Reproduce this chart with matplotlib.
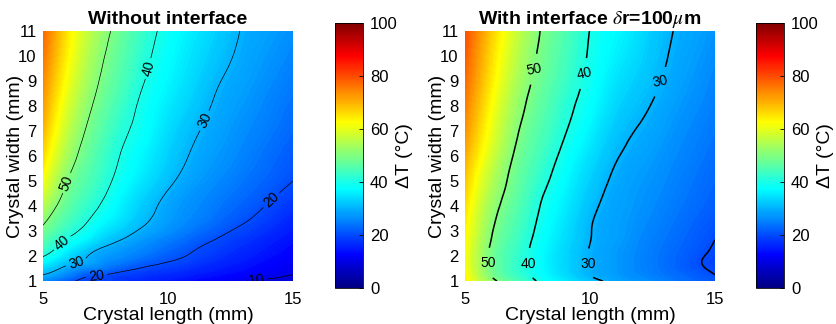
import numpy as np
import matplotlib
matplotlib.use("Agg")
import matplotlib.pyplot as plt
import matplotlib.tri as mtri
from matplotlib.cm import ScalarMappable
from matplotlib.colors import Normalize, LinearSegmentedColormap

plt.rcParams["font.family"] = ["Liberation Sans", "DejaVu Sans"]
plt.rcParams["mathtext.fontset"] = "stix"

# grid: crystal length (x) and crystal width (y), mm
crystal_length = [5, 6, 7, 8, 9, 10, 11, 12, 13, 14, 15]
crystal_width = [1, 1.25, 1.5, 2, 2.5, 3, 4, 5, 6, 7, 8, 9, 10, 11]

# delta T (degC), one row per crystal width
dT_no_interface = [
    [26.0, 21.3, 18.9, 17.7, 16.2, 14.7, 13.2, 11.7, 10.2, 9.05, 8.0],
    [30.0, 25.3, 20.7, 18.9, 17.6, 16.4, 15.1, 13.8, 12.6, 11.3, 10.0],
    [33.5, 28.3, 25.2, 22.1, 19.6, 18.1, 16.7, 15.2, 13.8, 12.3, 10.9],
    [40.3, 34.1, 29.1, 26.6, 24.1, 21.5, 19.3, 17.5, 15.7, 13.9, 12.1],
    [45.0, 38.3, 33.5, 29.3, 26.6, 24.0, 21.3, 19.1, 17.2, 15.3, 13.4],
    [48.5, 42.0, 37.1, 32.9, 29.2, 26.6, 23.9, 21.3, 19.0, 16.9, 14.8],
    [55.0, 46.5, 41.2, 36.6, 32.3, 28.6, 26.4, 24.2, 22.0, 19.7, 17.4],
    [61.5, 49.8, 44.0, 38.8, 34.9, 31.0, 28.0, 26.0, 24.0, 22.0, 20.0],
    [66.0, 53.2, 45.8, 40.3, 36.6, 32.8, 29.5, 27.4, 25.4, 23.3, 21.3],
    [69.5, 56.0, 47.8, 41.9, 38.0, 34.1, 30.7, 28.4, 26.4, 24.5, 22.5],
    [72.0, 58.5, 49.8, 43.8, 38.9, 35.5, 32.2, 29.3, 27.4, 25.4, 23.5],
    [74.0, 61.0, 51.6, 45.6, 40.3, 36.7, 33.6, 30.3, 28.3, 26.4, 24.5],
    [76.0, 63.0, 53.2, 46.9, 41.5, 37.6, 34.6, 31.6, 29.1, 27.3, 25.5],
    [77.5, 64.5, 54.7, 48.3, 42.6, 38.5, 35.6, 32.6, 29.7, 28.1, 26.5],
]
dT_interface = [
    [64.0, 52.3, 45.2, 39.2, 35.4, 31.5, 28.8, 26.9, 24.9, 22.9, 20.8],
    [63.0, 50.0, 43.2, 37.9, 34.0, 29.9, 27.8, 25.9, 23.9, 22.0, 20.0],
    [62.0, 49.5, 42.7, 37.6, 33.5, 29.7, 27.6, 25.5, 23.4, 21.2, 19.3],
    [62.0, 49.3, 42.8, 37.6, 33.5, 29.7, 27.6, 25.5, 23.4, 21.2, 19.3],
    [62.5, 50.1, 43.6, 38.0, 33.9, 30.0, 27.9, 25.8, 23.8, 21.8, 19.85],
    [63.5, 51.0, 44.5, 38.7, 34.5, 30.2, 28.2, 26.2, 24.3, 22.3, 20.4],
    [65.5, 53.0, 46.25, 40.0, 35.7, 31.2, 28.6, 27.0, 25.2, 23.4, 21.6],
    [68.0, 55.5, 47.9, 41.8, 37.1, 32.7, 29.3, 27.6, 26.0, 24.2, 22.5],
    [70.5, 58.5, 49.4, 43.7, 38.6, 34.5, 30.5, 28.5, 26.8, 25.0, 23.2],
    [73.0, 61.0, 51.1, 45.3, 40.3, 36.25, 32.0, 29.6, 27.7, 25.8, 24.0],
    [75.0, 63.0, 52.8, 46.8, 41.6, 37.7, 33.6, 30.9, 28.65, 26.7, 24.8],
    [77.0, 65.0, 54.6, 48.2, 43.1, 38.75, 35.0, 32.2, 29.6, 27.5, 25.5],
    [78.5, 66.5, 56.2, 49.2, 44.2, 39.45, 36.2, 33.3, 30.3, 28.2, 26.2],
    [80.0, 68.0, 57.6, 50.0, 45.1, 39.9, 37.1, 34.2, 30.8, 28.8, 27.0],
]

levels_no_interface = [10, 20, 30, 40, 50]
levels_interface = [20, 30, 40, 50]
labels_no_interface = [(6.0, 4.9), (5.73, 2.57), (9.2, 9.5), (6.3, 1.84),
                       (11.4, 7.44), (7.13, 1.2), (14.13, 4.24), (13.53, 1.1)]
labels_interface = [(5.9, 1.7), (7.76, 9.47), (7.4, 1.7), (9.73, 9.3),
                    (9.83, 1.67), (12.8, 8.97)]

panels = [
    ("Without interface", dT_no_interface, levels_no_interface,
     labels_no_interface, 0.5, False),
    (r"With interface $\delta$r=100$\mu$m", dT_interface, levels_interface,
     labels_interface, 1.1, True),
]

# MATLAB style jet
jet_m = LinearSegmentedColormap.from_list("jet_m", [
    (0.0, (0, 0, 0.5)), (0.125, (0, 0, 1)), (0.375, (0, 1, 1)),
    (0.625, (1, 1, 0)), (0.875, (1, 0, 0)), (1.0, (0.5, 0, 0))], N=256)

W, H = 837, 324
fig = plt.figure(figsize=(W / 100, H / 100), dpi=100)
ax_px = [(43, 31), (465, 31)]
cb_px = [(335, 23), (756, 23)]
norm = Normalize(0, 100)

X, Y = np.meshgrid(crystal_length, crystal_width)
tri = mtri.Triangulation(X.ravel(), Y.ravel())
refiner = mtri.UniformTriRefiner(tri)

for (title, table, lev, lab_pos, lw, flat), (ax0, ay0), (cx0, cy0) in zip(panels, ax_px, cb_px):
    ax = fig.add_axes([ax0 / W, 1 - (ay0 + 250) / H, 250 / W, 250 / H])
    tri_f, z_f = refiner.refine_field(np.array(table).ravel(), subdiv=3)
    ax.tricontourf(tri_f, z_f, levels=np.linspace(0, 100, 201), cmap=jet_m,
                   norm=norm)
    cs = ax.tricontour(tri_f, z_f, levels=lev, colors="black", linewidths=lw)
    texts = ax.clabel(cs, fmt="%d", fontsize=10, inline=True,
                      inline_spacing=8 if flat else 3, manual=lab_pos)
    if flat:
        # labels on this panel sit nearly level
        for t in texts:
            t.set_rotation(0 if t.get_position()[1] < 4 else 12)
    ax.set_xlim(5, 15)
    ax.set_ylim(1, 11)
    ax.set_xticks([5, 10, 15])
    ax.set_yticks(range(1, 12))
    ax.tick_params(length=0, labelsize=12)
    ax.tick_params(axis="x", pad=8)
    ax.tick_params(axis="y", pad=4.5)
    for s in ax.spines.values():
        s.set_visible(False)
    ax.set_xlabel("Crystal length (mm)", fontsize=14, labelpad=0)
    ax.set_ylabel("Crystal width (mm)", fontsize=14, labelpad=-4)
    ax.set_title(title, fontsize=14, fontweight="bold", pad=5)

    cax = fig.add_axes([cx0 / W, 1 - (cy0 + 265) / H, 28 / W, 265 / H])
    cb = fig.colorbar(ScalarMappable(norm=norm, cmap=jet_m), cax=cax,
                      ticks=[0, 20, 40, 60, 80, 100])
    cb.outline.set_linewidth(0.6)
    cax.tick_params(direction="in", length=3, width=0.6, labelsize=12, pad=5)
    cb.set_label("ΔT (°C)", fontsize=14, labelpad=-1)

fig.savefig("out.png", dpi=100)
